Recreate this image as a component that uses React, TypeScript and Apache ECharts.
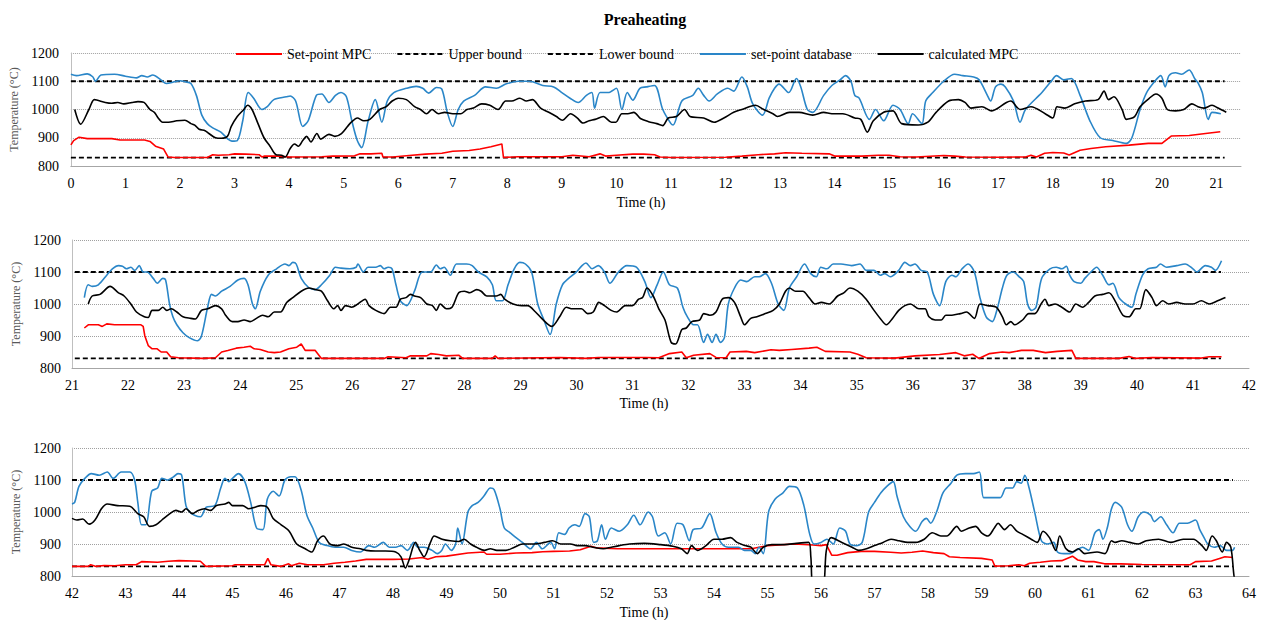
import React, { useEffect, useRef } from 'react';
import * as echarts from 'echarts';

const TITLE = 'Preaheating';
const NAMES = ['Set-point MPC', 'Upper bound', 'Lower bound', 'set-point database', 'calculated MPC'];
const X_TITLE = 'Time (h)';
const Y_TITLE = 'Temperature (°C)';
const UPPER = 1100;
const LOWER = 830;
const Y_RANGE = [800, 1200];
const Y_STEP = 100;
const P1_X = [0, 21.45];
const P2_X = [21, 42];
const P3_X = [42, 64];
const P1_BOUND = [0, 21.15];
const P2_BOUND = [21.05, 41.5];
const P3_BOUND = [42, 63.7];

const P1_SP = [[0,875],[0.05,890],[0.15,902],[0.3,897],[0.75,897],[0.9,892],[1.35,892],[1.45,887],[1.55,870],[1.7,860],[1.78,832],[1.9,830],[2.5,830],[2.6,840],[2.7,838],[2.9,840],[3.0,843],[3.2,842],[3.45,840],[3.5,832],[3.55,835],[3.8,835],[4.0,832],[4.6,833],[4.8,835],[5.2,836],[5.3,843],[5.5,843],[5.7,845],[5.72,832],[5.9,832],[6.2,837],[6.5,842],[6.8,845],[7.0,852],[7.3,855],[7.5,860],[7.7,868],[7.9,878],[7.93,830],[8.2,833],[9.0,833],[9.2,838],[9.5,833],[9.7,843],[9.8,835],[10.0,838],[10.3,842],[10.5,842],[10.7,840],[10.8,832],[11.0,830],[12.0,831],[12.3,835],[12.6,840],[12.9,843],[13.1,847],[13.4,845],[13.9,843],[14.0,835],[14.5,835],[14.8,838],[15.0,838],[15.2,833],[15.5,832],[16.0,837],[16.2,835],[16.4,832],[17.0,831],[17.5,832],[17.6,838],[17.7,832],[17.85,845],[18.0,848],[18.2,846],[18.3,839],[18.5,856],[18.7,862],[18.97,868],[19.4,874],[19.75,880],[20.0,880],[20.17,906],[20.5,908],[20.8,915],[21.07,921]];
const P1_DB = [[0,1125],[0.1,1120],[0.3,1126],[0.4,1116],[0.45,1100],[0.55,1122],[0.8,1125],[1.0,1118],[1.2,1112],[1.3,1120],[1.4,1115],[1.5,1122],[1.65,1105],[1.75,1092],[1.9,1098],[2.0,1102],[2.1,1098],[2.2,1092],[2.3,1050],[2.4,980],[2.5,950],[2.6,935],[2.75,920],[2.88,895],[2.95,888],[3.05,890],[3.15,960],[3.25,1060],[3.35,1040],[3.5,1000],[3.6,1010],[3.72,1035],[3.95,1045],[4.02,1048],[4.12,1030],[4.25,940],[4.35,960],[4.5,1050],[4.6,1055],[4.73,1025],[4.85,1050],[4.95,1060],[5.05,1045],[5.15,960],[5.25,890],[5.33,865],[5.45,960],[5.58,1035],[5.7,955],[5.8,1030],[5.92,1060],[6.15,1075],[6.33,1082],[6.45,1075],[6.56,1058],[6.7,1078],[6.8,1072],[6.9,990],[7.0,940],[7.1,1000],[7.2,1030],[7.4,1050],[7.6,1080],[7.8,1075],[7.97,1090],[8.2,1100],[8.4,1100],[8.65,1085],[8.85,1080],[9.0,1060],[9.15,1040],[9.3,1025],[9.45,1050],[9.55,1060],[9.6,1005],[9.7,1060],[9.85,1060],[10.0,1075],[10.1,1000],[10.2,1060],[10.3,1033],[10.43,1075],[10.55,1080],[10.7,1085],[10.85,1000],[11.0,950],[11.04,945],[11.2,1030],[11.4,1050],[11.5,1075],[11.6,1050],[11.7,1030],[11.85,1055],[12.04,1075],[12.15,1065],[12.3,1115],[12.4,1080],[12.5,1020],[12.68,980],[12.8,1040],[12.9,1075],[12.98,1090],[13.16,1060],[13.3,1110],[13.38,1080],[13.5,1000],[13.6,990],[13.8,1050],[13.95,1085],[14.1,1105],[14.2,1120],[14.3,1100],[14.37,1050],[14.45,1040],[14.64,965],[14.75,1000],[14.9,960],[15.07,1015],[15.2,1000],[15.35,950],[15.43,985],[15.6,950],[15.67,1030],[15.8,1060],[16.0,1100],[16.2,1125],[16.35,1120],[16.55,1115],[16.65,1105],[16.8,1050],[16.86,1030],[16.95,1080],[17.05,1090],[17.13,1080],[17.28,1030],[17.4,955],[17.5,1000],[17.8,1060],[17.97,1100],[18.07,1120],[18.2,1105],[18.34,1110],[18.5,1050],[18.68,960],[18.87,900],[19.1,890],[19.35,880],[19.45,900],[19.6,1000],[19.72,1060],[19.87,1100],[19.98,1120],[20.06,1080],[20.13,1120],[20.25,1130],[20.36,1125],[20.5,1140],[20.6,1110],[20.66,1095],[20.74,1060],[20.85,965],[20.92,990],[21.08,985]];
const P1_MPC = [[0.07,1000],[0.18,948],[0.33,1000],[0.43,1035],[0.63,1025],[0.75,1022],[0.86,1025],[0.97,1020],[1.12,1025],[1.23,1028],[1.34,1025],[1.45,1000],[1.53,990],[1.6,970],[1.68,955],[1.79,955],[1.94,960],[2.09,962],[2.2,950],[2.27,945],[2.35,930],[2.46,925],[2.53,915],[2.65,900],[2.76,898],[2.87,905],[2.94,940],[3.05,975],[3.17,1000],[3.24,1015],[3.32,1000],[3.43,950],[3.54,900],[3.65,870],[3.76,840],[3.86,838],[3.93,832],[4.02,862],[4.1,878],[4.17,870],[4.25,890],[4.32,905],[4.4,885],[4.51,915],[4.58,895],[4.73,912],[4.84,905],[4.96,915],[5.07,940],[5.14,955],[5.25,970],[5.37,960],[5.48,965],[5.66,1000],[5.78,1010],[5.89,1030],[6.0,1040],[6.15,1035],[6.3,1010],[6.41,1000],[6.52,985],[6.62,1000],[6.74,985],[6.85,990],[7.0,985],[7.15,985],[7.26,1000],[7.38,1005],[7.53,1020],[7.68,1015],[7.83,1000],[7.97,1030],[8.08,1030],[8.23,1040],[8.35,1030],[8.46,1035],[8.61,1005],[8.76,990],[8.9,975],[9.01,962],[9.16,985],[9.28,970],[9.39,952],[9.5,960],[9.61,965],[9.76,975],[9.91,955],[9.99,955],[10.1,985],[10.21,985],[10.32,990],[10.44,968],[10.59,957],[10.74,950],[10.85,943],[10.95,970],[11.1,975],[11.25,1000],[11.35,975],[11.6,970],[11.79,955],[11.97,970],[12.15,990],[12.3,1000],[12.55,1015],[12.7,1000],[12.87,985],[12.95,975],[13.17,990],[13.35,990],[13.6,980],[13.8,990],[13.95,985],[14.15,985],[14.37,970],[14.48,965],[14.6,920],[14.71,960],[14.9,990],[15.07,995],[15.23,950],[15.53,945],[15.71,955],[15.86,990],[16.09,1030],[16.27,1035],[16.39,1025],[16.5,1005],[16.7,1010],[16.88,995],[17.15,1025],[17.23,1030],[17.4,1000],[17.6,1010],[17.86,985],[18.0,970],[18.08,1010],[18.22,1005],[18.4,1020],[18.6,1030],[18.83,1035],[18.94,1065],[19.02,1035],[19.12,1045],[19.27,1000],[19.35,965],[19.5,975],[19.6,1010],[19.77,1040],[19.89,1055],[20.0,1040],[20.1,1000],[20.25,995],[20.4,1000],[20.55,1020],[20.66,1010],[20.77,1005],[20.92,1015],[21.03,1005],[21.18,990]];

const P2_SP = [[21.22,925],[21.29,935],[21.47,935],[21.54,930],[21.62,938],[21.76,935],[22.23,935],[22.27,930],[22.3,900],[22.36,870],[22.43,860],[22.52,860],[22.59,850],[22.69,850],[22.76,835],[22.9,832],[23.34,830],[23.56,832],[23.67,850],[23.78,855],[23.93,862],[24.07,865],[24.18,868],[24.25,860],[24.36,858],[24.5,850],[24.61,848],[24.72,850],[24.87,860],[25.01,865],[25.09,875],[25.16,855],[25.34,855],[25.45,830],[26.57,830],[26.64,835],[26.96,832],[27.04,838],[27.33,838],[27.4,845],[27.54,842],[27.68,838],[27.9,840],[27.97,830],[28.5,830],[28.55,838],[28.6,830],[29.7,833],[30.17,830],[30.39,833],[31.22,833],[31.47,832],[31.66,845],[31.88,850],[31.96,832],[32.09,840],[32.38,845],[32.49,833],[32.67,832],[32.74,850],[33.03,852],[33.18,848],[33.47,857],[33.62,855],[33.84,858],[34.15,862],[34.29,865],[34.44,852],[34.88,850],[35.02,843],[35.17,832],[35.68,831],[36.04,838],[36.48,842],[36.77,848],[36.92,838],[37.07,843],[37.18,830],[37.37,845],[37.6,850],[37.72,848],[37.94,855],[38.15,855],[38.37,848],[38.58,852],[38.84,855],[38.91,830],[39.68,830],[39.86,836],[39.98,830],[40.27,833],[41.15,831],[41.29,835],[41.51,835]];
const P2_DB = [[21.22,1020],[21.29,1060],[21.36,1055],[21.47,1060],[21.62,1090],[21.72,1110],[21.83,1120],[21.9,1118],[21.97,1110],[22.05,1115],[22.12,1105],[22.2,1120],[22.27,1100],[22.34,1100],[22.45,1080],[22.52,1065],[22.62,1080],[22.67,1075],[22.74,1000],[22.8,960],[22.87,935],[22.98,910],[23.09,895],[23.24,885],[23.31,900],[23.42,990],[23.49,1030],[23.56,1025],[23.67,1040],[23.82,1055],[23.96,1075],[24.07,1080],[24.14,1060],[24.22,1000],[24.27,985],[24.36,1040],[24.5,1090],[24.65,1110],[24.8,1125],[24.87,1120],[24.94,1130],[25.0,1125],[25.09,1080],[25.23,1050],[25.34,1045],[25.45,1060],[25.6,1090],[25.7,1115],[25.8,1112],[25.96,1110],[26.07,1115],[26.1,1125],[26.2,1100],[26.28,1115],[26.42,1115],[26.5,1120],[26.57,1110],[26.64,1115],[26.71,1110],[26.78,1060],[26.86,1010],[26.97,995],[27.11,1040],[27.25,1100],[27.4,1100],[27.5,1122],[27.57,1110],[27.64,1115],[27.75,1090],[27.86,1125],[28.04,1125],[28.14,1120],[28.25,1100],[28.4,1085],[28.5,1060],[28.57,1010],[28.68,1010],[28.78,1060],[28.89,1110],[28.99,1130],[29.09,1125],[29.2,1100],[29.31,1000],[29.42,950],[29.53,905],[29.64,1000],[29.75,1060],[29.86,1080],[30.0,1100],[30.1,1120],[30.17,1128],[30.28,1110],[30.39,1120],[30.5,1100],[30.6,1065],[30.75,1100],[30.9,1120],[31.07,1115],[31.22,1070],[31.33,1020],[31.44,1060],[31.55,1100],[31.66,1060],[31.8,1050],[31.9,990],[31.98,960],[32.09,935],[32.16,935],[32.27,880],[32.34,905],[32.42,880],[32.49,905],[32.57,880],[32.64,895],[32.71,1000],[32.82,1050],[32.93,1075],[33.04,1070],[33.18,1085],[33.26,1085],[33.37,1095],[33.48,1065],[33.6,1000],[33.7,980],[33.8,1050],[33.93,1085],[34.07,1125],[34.18,1095],[34.28,1085],[34.36,1115],[34.47,1110],[34.58,1125],[34.72,1125],[34.91,1120],[35.06,1125],[35.17,1105],[35.31,1105],[35.42,1090],[35.5,1095],[35.6,1085],[35.75,1105],[35.86,1130],[35.96,1120],[36.04,1125],[36.15,1105],[36.26,1100],[36.37,1030],[36.48,995],[36.59,1070],[36.7,1090],[36.77,1085],[36.88,1110],[36.99,1125],[37.1,1100],[37.2,1020],[37.31,960],[37.42,945],[37.5,980],[37.6,1050],[37.68,1090],[37.79,1100],[37.9,1085],[37.98,1070],[38.05,1000],[38.12,980],[38.2,990],[38.3,1080],[38.45,1110],[38.56,1115],[38.66,1110],[38.74,1118],[38.8,1090],[38.88,1070],[39.0,1065],[39.07,1080],[39.18,1100],[39.28,1115],[39.39,1090],[39.5,1060],[39.57,1065],[39.68,1020],[39.8,1000],[39.91,990],[39.98,1030],[40.1,1090],[40.2,1110],[40.35,1115],[40.42,1125],[40.53,1115],[40.71,1120],[40.86,1125],[41.0,1110],[41.07,1100],[41.22,1120],[41.33,1115],[41.4,1105],[41.51,1135]];
const P2_MPC = [[21.29,1000],[21.36,1025],[21.5,1030],[21.68,1055],[21.83,1035],[21.93,1025],[22.05,1000],[22.15,975],[22.29,960],[22.36,958],[22.43,980],[22.54,980],[22.62,990],[22.69,980],[22.77,985],[22.87,975],[22.98,960],[23.12,955],[23.2,953],[23.31,980],[23.42,985],[23.56,995],[23.67,985],[23.74,965],[23.86,945],[23.96,945],[24.07,950],[24.18,945],[24.29,955],[24.4,965],[24.5,960],[24.61,975],[24.72,975],[24.83,1005],[24.94,1020],[25.09,1040],[25.23,1050],[25.34,1045],[25.45,1040],[25.56,1010],[25.67,985],[25.74,995],[25.8,980],[25.88,995],[25.99,990],[26.1,1000],[26.23,1015],[26.3,995],[26.42,980],[26.57,970],[26.68,990],[26.78,990],[26.86,1015],[26.96,1020],[27.04,1030],[27.11,1025],[27.22,1020],[27.33,1000],[27.43,995],[27.5,980],[27.57,1000],[27.68,985],[27.78,990],[27.9,1035],[28.0,1040],[28.1,1035],[28.22,1045],[28.3,1040],[28.4,1025],[28.57,1025],[28.65,1030],[28.72,1015],[28.87,1000],[29.02,995],[29.13,995],[29.27,975],[29.38,955],[29.56,930],[29.7,960],[29.82,990],[29.93,985],[30.09,985],[30.2,970],[30.3,975],[30.4,1005],[30.5,995],[30.62,980],[30.72,975],[30.87,995],[31.0,995],[31.11,1015],[31.18,1020],[31.26,1050],[31.37,1025],[31.47,985],[31.58,950],[31.69,880],[31.77,875],[31.88,920],[31.96,925],[32.06,945],[32.2,950],[32.27,970],[32.38,965],[32.49,975],[32.6,1015],[32.71,1020],[32.82,1005],[32.93,960],[33.0,935],[33.11,955],[33.22,960],[33.37,970],[33.51,980],[33.62,1000],[33.73,1040],[33.8,1050],[33.91,1040],[34.04,1040],[34.15,1020],[34.26,1000],[34.37,1005],[34.51,1000],[34.66,1025],[34.77,1035],[34.88,1050],[35.02,1040],[35.17,1015],[35.31,980],[35.42,955],[35.53,935],[35.64,955],[35.75,980],[35.86,995],[35.96,1000],[36.11,985],[36.22,985],[36.29,960],[36.4,950],[36.51,950],[36.59,965],[36.7,965],[36.85,970],[36.96,975],[37.1,955],[37.2,1000],[37.34,995],[37.49,990],[37.6,960],[37.67,935],[37.75,945],[37.82,935],[37.96,950],[38.07,970],[38.18,970],[38.29,1000],[38.36,1015],[38.43,995],[38.54,1000],[38.66,990],[38.8,975],[38.91,1000],[39.03,990],[39.14,1005],[39.25,1025],[39.39,1030],[39.5,1035],[39.61,1010],[39.75,965],[39.86,960],[39.98,985],[40.05,985],[40.16,1045],[40.27,1020],[40.35,995],[40.46,1010],[40.57,1000],[40.71,1005],[40.86,1000],[41.0,1000],[41.15,1010],[41.29,1000],[41.44,1010],[41.58,1020]];

const P3_SP = [[42.0,830],[42.3,830],[42.35,835],[42.45,830],[42.6,833],[42.8,832],[43.0,835],[43.2,835],[43.3,845],[43.6,843],[43.8,846],[44.0,848],[44.4,846],[44.5,830],[45.0,832],[45.05,835],[45.6,835],[45.66,855],[45.72,835],[45.9,830],[46.05,838],[46.1,832],[46.25,840],[46.4,835],[46.7,835],[46.9,840],[47.1,843],[47.3,847],[47.5,852],[48.0,852],[48.3,853],[48.55,858],[48.65,852],[48.8,860],[49.0,862],[49.4,872],[49.7,875],[49.75,868],[50.0,868],[50.3,872],[50.6,873],[50.8,876],[51.0,877],[51.3,878],[51.5,882],[51.7,893],[51.8,888],[52.2,885],[53.0,885],[54.0,885],[54.7,885],[55.0,895],[55.5,900],[55.85,897],[56.0,895],[56.1,898],[56.2,865],[56.3,865],[56.5,873],[56.75,877],[57.0,877],[57.3,874],[57.5,872],[57.7,874],[57.9,878],[58.1,873],[58.3,870],[58.4,860],[58.6,858],[59.0,855],[59.2,850],[59.25,831],[59.5,832],[59.7,835],[59.8,832],[59.9,840],[60.1,843],[60.3,847],[60.5,848],[60.6,855],[60.7,862],[60.8,850],[60.95,845],[61.1,845],[61.3,838],[61.6,838],[62.0,836],[62.9,835],[63.0,845],[63.3,847],[63.45,855],[63.55,860],[63.7,858]];
const P3_DB = [[42.0,1025],[42.05,1030],[42.13,1080],[42.24,1105],[42.36,1120],[42.51,1115],[42.66,1125],[42.77,1105],[42.92,1125],[43.08,1125],[43.17,1100],[43.23,1030],[43.3,960],[43.38,960],[43.49,1065],[43.6,1075],[43.68,1105],[43.79,1100],[43.9,1110],[43.98,1120],[44.05,1115],[44.13,1020],[44.2,1000],[44.29,990],[44.4,985],[44.51,1015],[44.67,1020],[44.78,1075],[44.86,1105],[44.93,1095],[45.0,1105],[45.11,1120],[45.23,1095],[45.34,1030],[45.45,950],[45.57,945],[45.65,1040],[45.76,1065],[45.87,1050],[45.98,1100],[46.09,1110],[46.17,1110],[46.28,1070],[46.39,990],[46.5,950],[46.62,905],[46.77,895],[46.92,890],[47.08,890],[47.23,880],[47.39,875],[47.55,895],[47.66,890],[47.82,905],[47.93,890],[48.05,890],[48.15,895],[48.27,880],[48.39,905],[48.46,890],[48.58,890],[48.73,880],[48.83,870],[48.91,880],[48.98,900],[49.09,880],[49.17,900],[49.21,950],[49.29,900],[49.4,1000],[49.48,1020],[49.59,1030],[49.7,1050],[49.82,1075],[49.89,1070],[50.0,1010],[50.08,950],[50.19,935],[50.3,920],[50.42,905],[50.57,885],[50.68,905],[50.79,885],[50.95,905],[51.02,885],[51.1,935],[51.21,930],[51.29,950],[51.4,960],[51.48,955],[51.59,995],[51.67,985],[51.75,905],[51.82,910],[51.9,960],[51.97,915],[52.08,950],[52.23,940],[52.38,960],[52.5,990],[52.62,960],[52.77,1000],[52.85,985],[52.96,925],[53.08,935],[53.19,900],[53.31,965],[53.42,960],[53.54,910],[53.61,945],[53.77,950],[53.92,995],[54.04,935],[54.15,900],[54.27,890],[54.46,890],[54.57,880],[54.69,880],[54.77,870],[54.84,890],[54.92,870],[55.02,1000],[55.14,1040],[55.29,1060],[55.41,1080],[55.56,1075],[55.68,1020],[55.79,930],[55.87,900],[56.0,905],[56.11,915],[56.23,900],[56.35,950],[56.46,940],[56.54,900],[56.66,895],[56.77,905],[56.89,1000],[57.0,1030],[57.12,1060],[57.23,1080],[57.35,1095],[57.42,1050],[57.54,985],[57.66,955],[57.77,940],[57.89,970],[57.97,980],[58.05,965],[58.16,1000],[58.28,1060],[58.43,1090],[58.54,1115],[58.7,1120],[58.85,1120],[58.96,1125],[59.04,1045],[59.16,1045],[59.35,1045],[59.46,1075],[59.58,1075],[59.66,1095],[59.74,1090],[59.81,1115],[59.89,1075],[60.0,995],[60.12,910],[60.23,900],[60.35,905],[60.42,875],[60.54,870],[60.66,870],[60.77,880],[60.89,890],[61.0,880],[61.12,935],[61.2,945],[61.27,915],[61.35,950],[61.43,1010],[61.5,1030],[61.62,1015],[61.73,960],[61.81,940],[61.93,985],[62.04,1000],[62.16,990],[62.23,970],[62.35,985],[62.46,960],[62.58,935],[62.7,965],[62.85,965],[63.0,975],[63.08,945],[63.16,920],[63.23,900],[63.35,890],[63.46,895],[63.58,880],[63.69,880],[63.73,890]];
const P3_MPC = [[42.0,980],[42.09,975],[42.2,978],[42.32,962],[42.43,975],[42.55,1010],[42.66,1025],[42.85,1020],[43.08,1018],[43.23,995],[43.34,985],[43.45,955],[43.57,960],[43.68,975],[43.83,995],[43.94,1005],[44.05,1000],[44.13,1010],[44.25,995],[44.36,1005],[44.48,1010],[44.59,1005],[44.7,1020],[44.86,1025],[44.93,1030],[45.0,1020],[45.19,1020],[45.3,1010],[45.42,1015],[45.53,1020],[45.65,1015],[45.76,980],[45.91,960],[46.06,940],[46.2,900],[46.36,885],[46.48,875],[46.59,910],[46.7,925],[46.82,900],[46.97,895],[47.08,900],[47.23,890],[47.39,885],[47.5,880],[47.67,878],[47.86,878],[48.05,875],[48.15,860],[48.23,825],[48.3,850],[48.42,905],[48.5,880],[48.58,860],[48.7,905],[48.77,925],[48.92,915],[49.07,910],[49.23,908],[49.33,915],[49.45,900],[49.56,890],[49.71,880],[49.82,885],[49.94,880],[50.11,880],[50.27,890],[50.42,900],[50.64,900],[50.83,905],[50.98,910],[51.14,900],[51.32,900],[51.44,895],[51.59,895],[51.74,890],[51.93,885],[52.08,890],[52.23,895],[52.42,900],[52.7,902],[53.0,898],[53.23,893],[53.39,885],[53.5,870],[53.58,895],[53.69,880],[53.85,895],[54.0,915],[54.15,915],[54.31,920],[54.43,905],[54.58,895],[54.69,890],[54.81,870],[54.92,890],[55.08,898],[55.31,898],[55.54,902],[55.77,905],[55.81,860],[55.86,770],[56.03,770],[56.1,880],[56.19,920],[56.39,905],[56.58,890],[56.7,880],[56.85,885],[57.0,895],[57.16,905],[57.31,915],[57.46,910],[57.62,905],[57.77,905],[57.93,915],[58.08,935],[58.24,925],[58.35,925],[58.54,955],[58.62,940],[58.77,950],[58.89,955],[59.0,935],[59.12,925],[59.24,950],[59.31,965],[59.43,945],[59.54,960],[59.66,940],[59.77,930],[59.93,915],[60.04,905],[60.15,940],[60.27,920],[60.39,880],[60.46,925],[60.58,885],[60.7,875],[60.81,885],[60.93,870],[61.16,875],[61.31,870],[61.43,910],[61.5,905],[61.62,910],[61.77,905],[61.93,900],[62.08,910],[62.31,915],[62.54,905],[62.77,915],[62.96,915],[63.12,895],[63.2,880],[63.31,925],[63.39,910],[63.5,875],[63.58,905],[63.66,890],[63.72,800],[63.75,780]];

const FONT = '"Liberation Serif", "Times New Roman", serif';
const RED = '#ff0000';
const BLUE = '#2a86c8';
const BLACK = '#000000';

const GRIDS = [
  { left: 65, top: 53, width: 1176, height: 113 },
  { left: 72, top: 240, width: 1177, height: 128 },
  { left: 72, top: 448, width: 1177, height: 128 },
];
const X_NAME_POS = [[641, 202], [644, 403], [644, 612]];

function panelSeries(i: number, sp: number[][], db: number[][], mpc: number[][], bound: number[]) {
  const base = { type: 'line', xAxisIndex: i, yAxisIndex: i, symbol: 'none', showSymbol: false, clip: true };
  return [
    { ...base, name: NAMES[1], data: [[bound[0], UPPER], [bound[1], UPPER]], lineStyle: { color: BLACK, width: 1.8, type: [5, 3] }, itemStyle: { color: BLACK }, z: 2 },
    { ...base, name: NAMES[2], data: [[bound[0], LOWER], [bound[1], LOWER]], lineStyle: { color: BLACK, width: 1.8, type: [5, 3] }, itemStyle: { color: BLACK }, z: 2 },
    { ...base, name: NAMES[0], data: sp, lineStyle: { color: RED, width: 1.6 }, itemStyle: { color: RED }, z: 3 },
    { ...base, name: NAMES[3], data: db, smooth: 0.3, lineStyle: { color: BLUE, width: 1.6 }, itemStyle: { color: BLUE }, z: 4 },
    { ...base, name: NAMES[4], data: mpc, smooth: 0.3, lineStyle: { color: BLACK, width: 1.6 }, itemStyle: { color: BLACK }, z: 5 },
  ];
}

export default function App() {
  const ref = useRef<HTMLDivElement>(null);
  useEffect(() => {
    document.body.style.margin = '0';
    if (!ref.current) return;
    const chart = echarts.init(ref.current, null, { renderer: 'svg' });
    const xRanges = [P1_X, P2_X, P3_X];
    const option = {
      animation: false,
      backgroundColor: '#ffffff',
      textStyle: { fontFamily: FONT },
      legend: {
        data: NAMES,
        left: 230,
        top: 42,
        itemWidth: 46,
        itemHeight: 2,
        itemGap: 25,
        itemStyle: { opacity: 0 },
        textStyle: { fontFamily: FONT, fontSize: 14, color: '#000' },
      },
      grid: GRIDS.map((g) => ({ ...g, containLabel: false })),
      xAxis: xRanges.map((r, i) => ({
        type: 'value',
        gridIndex: i,
        min: r[0],
        max: r[1],
        interval: 1,
        axisLine: { show: true, onZero: false, lineStyle: { color: '#a6a6a6', width: 1 } },
        axisTick: { show: false },
        splitLine: { show: false },
        axisLabel: {
          margin: 10,
          fontSize: 14,
          color: '#000',
          fontFamily: FONT,
          formatter: (v: number) => (Math.abs(v - Math.round(v)) < 1e-6 ? String(Math.round(v)) : ''),
        },
      })),
      yAxis: xRanges.map((_, i) => ({
        type: 'value',
        gridIndex: i,
        min: Y_RANGE[0],
        max: Y_RANGE[1],
        interval: Y_STEP,
        name: Y_TITLE,
        nameLocation: 'middle',
        nameGap: i === 0 ? 46 : 47,
        nameTextStyle: { fontFamily: FONT, fontSize: 12, color: '#595959' },
        axisLine: { show: true, lineStyle: { color: '#bfbfbf', width: 1 } },
        axisTick: { show: false },
        splitLine: { show: true, lineStyle: { color: '#a0a0a0', type: 'dotted', width: 1 } },
        axisLabel: {
          margin: i === 0 ? 12 : 11,
          fontSize: 14,
          color: '#000',
          fontFamily: FONT,
          formatter: (v: number) => String(Math.round(v)),
        },
      })),
      graphic: [
        {
          type: 'text',
          x: 645,
          y: 19,
          style: { text: TITLE, fontFamily: FONT, fontSize: 16, fontWeight: 'bold', fill: '#000', textAlign: 'center', textVerticalAlign: 'middle' },
        },
        ...X_NAME_POS.map((p) => ({
          type: 'text',
          x: p[0],
          y: p[1],
          style: { text: X_TITLE, fontFamily: FONT, fontSize: 14, fill: '#000', textAlign: 'center', textVerticalAlign: 'middle' },
        })),
      ],
      series: [
        ...panelSeries(0, P1_SP, P1_DB, P1_MPC, P1_BOUND),
        ...panelSeries(1, P2_SP, P2_DB, P2_MPC, P2_BOUND),
        ...panelSeries(2, P3_SP, P3_DB, P3_MPC, P3_BOUND),
      ],
    };
    chart.setOption(option as any);
    return () => chart.dispose();
  }, []);
  return <div ref={ref} style={{ width: 1274, height: 620 }} />;
}
